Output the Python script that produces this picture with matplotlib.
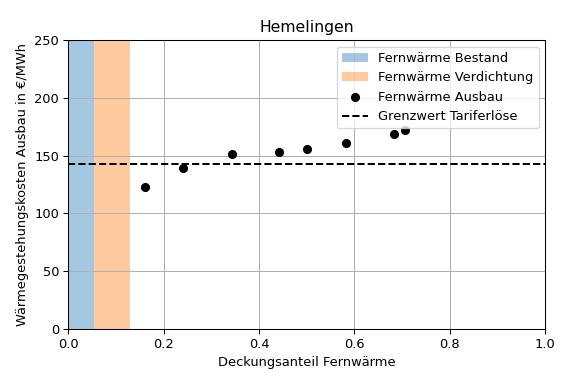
import matplotlib
matplotlib.use('Agg')
import matplotlib.pyplot as plt

# data
bestand = (0.0, 0.055)
verdichtung = (0.055, 0.13)
ausbau_x = [0.161, 0.240, 0.344, 0.442, 0.501, 0.583, 0.682, 0.707]
ausbau_y = [122.5, 139, 151, 153.5, 156, 160.5, 169, 172]
grenzwert = 142.5

# reference looks like it was rendered at a slightly lower dpi
dpi = 93.6
fig = plt.figure(figsize=(568 / dpi, 381 / dpi), dpi=dpi)
ax = fig.add_axes([0.12, 0.1365, 0.84, 0.7585])

ax.axvspan(*bestand, color='tab:blue', alpha=0.4, lw=0, label='Fernwärme Bestand')
ax.axvspan(*verdichtung, color='tab:orange', alpha=0.4, lw=0, label='Fernwärme Verdichtung')
ax.scatter(ausbau_x, ausbau_y, color='black', zorder=3, label='Fernwärme Ausbau')
ax.axhline(grenzwert, color='black', linestyle='--', label='Grenzwert Tariferlöse')

ax.set_xlim(0, 1)
ax.set_ylim(0, 250)
ax.set_title('Hemelingen')
ax.set_xlabel('Deckungsanteil Fernwärme')
ax.set_ylabel('Wärmegestehungskosten Ausbau in €/MWh')
ax.grid(True)
ax.legend(loc='upper right')

fig.savefig('out.png', dpi=dpi)
